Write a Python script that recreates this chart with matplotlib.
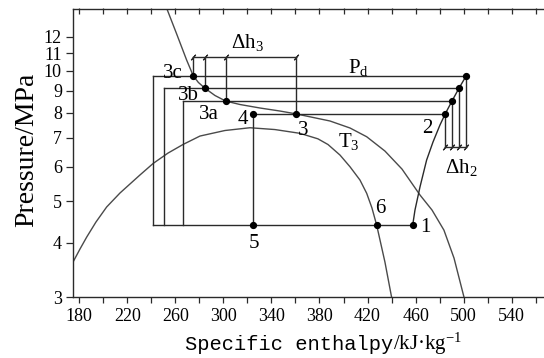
import numpy as np
import matplotlib
matplotlib.use('Agg')
import matplotlib.pyplot as plt

plt.rcParams['font.family'] = ['Liberation Serif', 'DejaVu Serif']
plt.rcParams['mathtext.fontset'] = 'custom'
plt.rcParams['mathtext.rm'] = 'Liberation Serif'
plt.rcParams['mathtext.default'] = 'regular'

# saturation dome (h in kJ/kg, p in MPa)
dome_h = [174.8, 180.6, 186.2, 193.9, 202.8, 213.9, 230.5, 241.6, 253.9, 266.6, 280.5, 301.3, 322.1,
          342.9, 363.8, 378.7, 387.1, 397.1, 405.4, 413.7, 419.3, 423.7, 427.6, 430.4, 434.5, 440.5]
dome_p = [3.613, 3.873, 4.128, 4.472, 4.845, 5.220, 5.745, 6.113, 6.458, 6.765, 7.071, 7.283, 7.391,
          7.320, 7.174, 6.967, 6.759, 6.389, 6.004, 5.594, 5.212, 4.819, 4.400, 4.062, 3.613, 2.95]

# isotherm T3
t3_h = [250.1, 261.1, 269.4, 274.9, 279.2, 284.7, 293.0, 301.9, 313.8, 330.5, 347.1, 360.2,
        388.7, 405.4, 419.3, 434.5, 448.7, 463.7, 473.7, 483.6, 492.0, 502.0]
t3_p = [14.6, 12.18, 10.60, 9.75, 9.406, 9.12, 8.776, 8.52, 8.365, 8.210, 8.079, 7.96,
        7.662, 7.381, 7.045, 6.528, 5.930, 5.164, 4.767, 4.284, 3.691, 2.873]

# compression 1 -> 2 -> 2c
comp_h = [457.6, 459.5, 463.7, 469.2, 474.5, 480.3, 484.7, 490.3, 496.1, 502.2]
comp_p = [4.40, 4.767, 5.396, 6.223, 6.849, 7.499, 7.96, 8.52, 9.12, 9.75]

p_low = 4.40
p_high = [7.96, 8.52, 9.12, 9.75]          # 2/3, a, b, c
h_gc_out = [360.2, 301.9, 284.7, 274.9]   # 3, 3a, 3b, 3c
h_comp_out = [484.7, 490.3, 496.1, 502.2]  # 2, 2a, 2b, 2c
h_expand = [324.4, 266.6, 250.8, 241.4]   # 4 and rectangle sides
h1 = 457.6
h6 = 427.6
dh3_level = 10.76
dh2_level = 6.68

y_ticks = [3, 4, 5, 6, 7, 8, 9, 10, 11, 12]
x_major = np.arange(180, 541, 40)
x_minor = np.arange(200, 581, 40)

lc = '#2a2a2a'
cc = '#4a4a4a'
lw = 1.0

fig = plt.figure(figsize=(5.44, 3.58), dpi=100)
ax = fig.add_axes([73 / 544, 1 - 297 / 358, (562 - 73) / 544, (297 - 8.5) / 358])
ax.set_yscale('log')
ax.set_xlim(174.8, 581.9)
ax.set_ylim(3, 13.95)

ax.plot(dome_h, dome_p, color=cc, lw=lw)
ax.plot(t3_h, t3_p, color=cc, lw=lw)
ax.plot(comp_h, comp_p, color=lc, lw=lw)

for i in range(4):
    ax.plot([h_expand[i], h_comp_out[i]], [p_high[i], p_high[i]], color=lc, lw=lw)
    ax.plot([h_expand[i], h_expand[i]], [p_high[i], p_low], color=lc, lw=lw)
    ax.plot([h_gc_out[i], h_gc_out[i]], [p_high[i], dh3_level], color=lc, lw=lw)
    ax.plot([h_comp_out[i], h_comp_out[i]], [p_high[i], dh2_level], color=lc, lw=lw)
ax.plot([min(h_expand), h1], [p_low, p_low], color=lc, lw=lw)
ax.plot([min(h_gc_out), max(h_gc_out)], [dh3_level, dh3_level], color=lc, lw=lw)
ax.plot([min(h_comp_out), max(h_comp_out)], [dh2_level, dh2_level], color=lc, lw=lw)

# slash marks on the dimension lines
ax.plot(h_gc_out, [dh3_level] * 4, ls='none', marker=(2, 2, -40), ms=5, mec=lc, mew=0.8)
ax.plot(h_comp_out, [dh2_level] * 4, ls='none', marker=(2, 2, -40), ms=5, mec=lc, mew=0.8)

# state points
pts_h = h_gc_out + h_comp_out + [h_expand[0], h_expand[0], h6, h1]
pts_p = p_high + p_high + [p_high[0], p_low, p_low, p_low]
ax.plot(pts_h, pts_p, ls='none', marker='o', ms=4.2, color='black')

fs = 15
ax.text(266.3, 9.618, '3c', fontsize=fs, ha='right', va='baseline')
ax.text(279.7, 8.567, '3b', fontsize=fs, ha='right', va='baseline')
ax.text(288.0, 7.745, '3a', fontsize=fs, ha='center', va='baseline')
ax.text(316.1, 7.539, '4', fontsize=fs, ha='center', va='baseline')
ax.text(366.5, 7.112, '3', fontsize=fs, ha='center', va='baseline')
ax.text(325.6, 3.887, '5', fontsize=fs, ha='center', va='baseline')
ax.text(430.4, 4.687, '6', fontsize=fs, ha='center', va='baseline')
ax.text(467.8, 4.246, '1', fontsize=fs, ha='center', va='baseline')
ax.text(470.0, 7.174, '2', fontsize=fs, ha='center', va='baseline')
ax.text(404.0, 9.91, 'P$_d$', fontsize=fs, ha='left', va='baseline')
ax.text(395.6, 6.68, 'T$_3$', fontsize=fs, ha='left', va='baseline')
ax.text(306.1, 11.28, 'Δh$_3$', fontsize=fs, ha='left', va='baseline')
ax.text(484.5, 5.80, 'Δh$_2$', fontsize=fs, ha='left', va='baseline')

# axes styling
for s in ['left', 'bottom', 'top']:
    ax.spines[s].set_color(lc)
    ax.spines[s].set_linewidth(1.0)
ax.spines['right'].set_visible(False)

ax.set_yticks(y_ticks)
ax.set_yticklabels([str(v) for v in y_ticks])
ax.yaxis.set_minor_locator(matplotlib.ticker.NullLocator())
ax.set_xticks(x_major)
ax.set_xticks(x_minor, minor=True)
ax.tick_params(axis='both', which='both', direction='out', color=lc, width=0.9, labelsize=13)
ax.tick_params(axis='x', which='both', length=4, pad=4)
ax.tick_params(axis='y', length=5, pad=3)

top = ax.secondary_xaxis('top')
top.set_xticks(np.arange(180, 581, 20))
top.tick_params(direction='in', length=4, width=0.9, color=lc, labeltop=False)
top.spines['top'].set_visible(False)

fig.text(33.3 / 544, 1 - 150 / 358, 'Pressure/MPa', rotation=90, rotation_mode='anchor',
         ha='center', va='baseline', fontsize=20)
fig.text(393 / 544, 8 / 358, 'Specific enthalpy', family='Liberation Mono', fontsize=14.7,
         ha='right', va='baseline')
fig.text(393 / 544, 8 / 358, '/kJ·kg$^{-1}$', fontsize=15, ha='left', va='baseline')

fig.savefig('out.png', dpi=100)
